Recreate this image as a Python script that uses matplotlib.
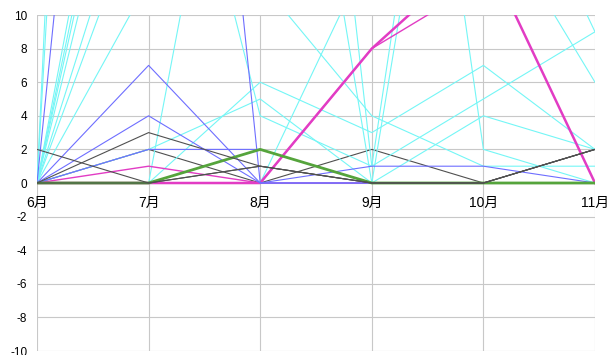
import matplotlib
matplotlib.use("Agg")
import matplotlib.pyplot as plt

plt.rcParams['font.family'] = ['Liberation Sans', 'Noto Sans CJK JP']
plt.rcParams['axes.unicode_minus'] = False

months = ["6月", "7月", "8月", "9月", "10月", "11月"]

# monthly counts, one list per item (6月 .. 11月)
cyan_counts = [
    [0, 140, 150, 150, 150, 150],
    [0, 115, 120, 120, 23, 9],
    [0, 35, 35, 35, 35, 35],
    [0, 32, 40, 0, 40, 40],
    [0, 30, 4, 1, 5, 9],
    [0, 27, 40, 49, 2, 0],
    [0, 21, 60, 1, 45, 45],
    [0, 18, 18, 18, 17, 6],
    [0, 12, 12, 4, 1, 1],
    [0, 0, 0, 14, 20, 20],
    [0, 0, 35, 35, 35, 35],
    [0, 2, 5, 0, 4, 2],
    [0, 0, 6, 3, 7, 2],
]
magenta_counts = [
    [0, 1, 0, 0, 0, 0],
    [0, 0, 0, 8, 12, 15],
]
magenta_main = [0, 0, 0, 8, 14, 0]
blue_counts = [
    [0, 65, 0, 0, 0, 0],
    [0, 7, 0, 0, 0, 0],
    [0, 4, 0, 1, 1, 0],
    [0, 2, 2, 0, 0, 0],
]
green_counts = [0, 0, 2, 0, 0, 0]
black_zigzag = [0, 2, 0, 2, 0, 2]
black_counts = [
    [2, 0, 1, 0, 0, 2],
    [0, 3, 1, 0, 0, 2],
    [0, 0, 1, 0, 0, 2],
]
y_ticks = list(range(-10, 11, 2))

fig = plt.figure(figsize=(6.11, 3.55), dpi=100)
ax = fig.add_axes([37 / 611, 4 / 355, 558 / 611, 336 / 355])
x = list(range(len(months)))

ax.plot(x, black_zigzag, color="#505050", lw=0.8)
for s in cyan_counts:
    ax.plot(x, s, color="#74f6f6", lw=0.8)
for s in magenta_counts:
    ax.plot(x, s, color="#e23cc4", lw=1.0)
ax.plot(x, magenta_main, color="#e23cc4", lw=1.8)
for s in blue_counts:
    ax.plot(x, s, color="#6e6eff", lw=0.8)
ax.plot(x, green_counts, color="#55a43c", lw=2.0)
for s in black_counts:
    ax.plot(x, s, color="#505050", lw=0.8)

ax.set_xlim(0, len(months) - 1)
ax.set_ylim(-10, 10)
ax.set_yticks(y_ticks)
ax.set_yticklabels([str(v) for v in y_ticks], fontsize=8.5)
ax.set_xticks(x)
ax.set_xticklabels(months, fontsize=9.5)

for sp in ax.spines.values():
    sp.set_visible(False)
ax.spines['bottom'].set_position(('data', 0))
ax.tick_params(length=0)
ax.tick_params(axis='x', pad=9)
ax.tick_params(axis='y', pad=7)
ax.grid(True, color="#c8c8c8", lw=0.8)
ax.set_axisbelow(True)

fig.savefig("out.png", dpi=100)
